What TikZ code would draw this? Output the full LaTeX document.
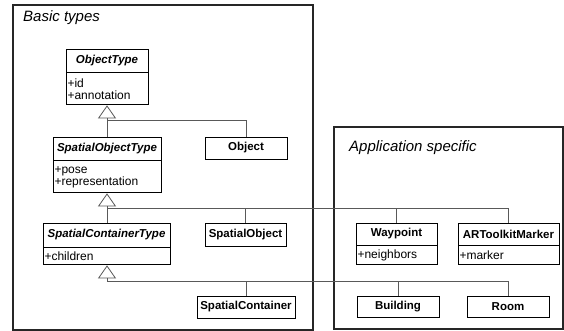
\documentclass[tikz,border=0pt]{standalone}
\usepackage{fontspec}
\setmainfont{Liberation Sans}
\usetikzlibrary{arrows.meta}
\begin{document}
\begin{tikzpicture}[x=1pt,y=-1pt,
  frame/.style={draw=black!85, line width=1.1pt},
  ptitle/.style={anchor=base west, font=\fontsize{15}{17}\selectfont\itshape, inner sep=0pt},
  hdr/.style={draw=black, line width=0.9pt, inner sep=0pt, font=\fontsize{11.5}{13}\selectfont\bfseries},
  abst/.style={hdr, font=\fontsize{11.5}{13}\selectfont\bfseries\itshape},
  attr/.style={draw=black, line width=0.9pt, anchor=north west, inner xsep=1.5pt, inner ysep=2pt,
    align=left, font=\fontsize{12}{14.5}\selectfont},
  conn/.style={draw=black!65, line width=0.8pt},
  gen/.style={conn, -{Triangle[open, length=13pt, width=18pt, line width=0.8pt]}, shorten >=0pt}
]
\useasboundingbox (0,0) rectangle (564,331);
% packages
\draw[frame] (13,5) rectangle (313,330);
\draw[frame] (334,127) rectangle (563,329);
\node[ptitle] (tb) at (23,22) {Basic types};
\node[ptitle] (ta) at (349,152) {Application specific};

% ObjectType
\node[abst, minimum width=82pt, minimum height=23pt] (ot) at (107,60.5) {ObjectType};
\node[attr, text width=79pt, minimum height=32pt] (ota) at (ot.south west) {+id\\[-2.5pt]+annotation};
% Object
\node[hdr, minimum width=82pt, minimum height=22pt] (obj) at (246,148) {Object};
% SpatialObjectType
\node[abst, minimum width=108pt, minimum height=23pt] (sot) at (107,148.5) {SpatialObjectType};
\node[attr, text width=105pt, minimum height=32pt] (sota) at (sot.south west) {+pose\\[-2.5pt]+representation};
% SpatialContainerType
\node[abst, minimum width=127pt, minimum height=24pt] (sct) at (106.5,235) {SpatialContainerType};
\node[attr, text width=124pt, minimum height=17pt, inner ysep=1pt] (scta) at (sct.south west) {+children};
% SpatialObject
\node[hdr, minimum width=81pt, minimum height=23pt] (so) at (245.5,234.5) {SpatialObject};
% SpatialContainer
\node[hdr, minimum width=98pt, minimum height=22pt] (sc) at (246,307) {SpatialContainer};
% Waypoint
\node[hdr, minimum width=81pt, minimum height=22pt] (wp) at (396.5,234) {Waypoint};
\node[attr, text width=78pt, minimum height=19pt, inner ysep=1pt] (wpa) at (wp.south west) {+neighbors};
% ARToolkitMarker
\node[hdr, minimum width=101pt, minimum height=22pt] (ar) at (508.5,234) {ARToolkitMarker};
\node[attr, text width=98pt, minimum height=19pt, inner ysep=1pt] (ara) at (ar.south west) {+marker};
% Building, Room
\node[hdr, minimum width=82pt, minimum height=21pt] (bd) at (398,306.5) {Building};
\node[hdr, minimum width=82pt, minimum height=21pt] (rm) at (508,306.5) {Room};

% junctions
\coordinate (j1) at (107,120);
\coordinate (j2) at (107,208);
\coordinate (j3) at (107,281);

% generalisations
\draw[gen] (j1) -- (ota.south -| j1);
\draw[conn] (sot.north -| j1) -- (j1) -| (obj.north);

\draw[gen] (j2) -- (sota.south -| j2);
\draw[conn] (sct.north -| j2) -- (j2) -| (ar.north);
\draw[conn] (so.north) -- (so.north |- j2);
\draw[conn] (wp.north) -- (wp.north |- j2);

\draw[gen] (j3) -- (scta.south -| j3);
\draw[conn] (j3) -| (rm.north);
\draw[conn] (sc.north) -- (sc.north |- j3);
\draw[conn] (bd.north) -- (bd.north |- j3);
\end{tikzpicture}
\end{document}
